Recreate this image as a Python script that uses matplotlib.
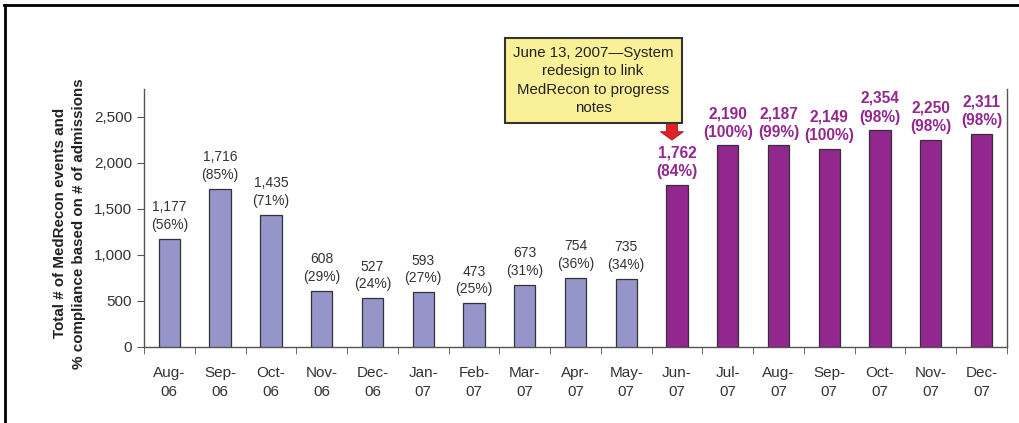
import matplotlib
matplotlib.use("Agg")
import matplotlib.pyplot as plt
from matplotlib.lines import Line2D
from matplotlib.ticker import FuncFormatter

plt.rcParams['font.family'] = ['Liberation Sans', 'DejaVu Sans']

# data
months = ['Aug-\n06', 'Sep-\n06', 'Oct-\n06', 'Nov-\n06', 'Dec-\n06', 'Jan-\n07',
          'Feb-\n07', 'Mar-\n07', 'Apr-\n07', 'May-\n07', 'Jun-\n07', 'Jul-\n07',
          'Aug-\n07', 'Sep-\n07', 'Oct-\n07', 'Nov-\n07', 'Dec-\n07']
events = [1177, 1716, 1435, 608, 527, 593, 473, 673, 754, 735,
          1762, 2190, 2187, 2149, 2354, 2250, 2311]
compliance = [56, 85, 71, 29, 24, 27, 25, 31, 36, 34,
              84, 100, 99, 100, 98, 98, 98]
n_before = 10  # months before the June 2007 redesign

light = '#9595C9'
dark = '#92278F'

fig = plt.figure(figsize=(10.19, 4.23), dpi=100)
ax = fig.add_axes([0.1413, 0.1797, 0.8469, 0.6099])

x = list(range(len(events)))
colors = [light if i < n_before else dark for i in x]
ax.bar(x, events, width=0.42, color=colors, edgecolor='#333333', linewidth=0.9, zorder=3)

for i, (v, p) in enumerate(zip(events, compliance)):
    lab = f'{v:,}\n({p}%)'
    if i < n_before:
        ax.annotate(lab, (i, v), xytext=(0, 5), textcoords='offset points',
                    ha='center', va='bottom', fontsize=10, color='#333333',
                    linespacing=1.35)
    else:
        ax.annotate(lab, (i, v), xytext=(0, 4), textcoords='offset points',
                    ha='center', va='bottom', fontsize=11.2, color=dark,
                    fontweight='bold', linespacing=1.3)

ax.set_xlim(-0.5, len(events) - 0.5)
ax.set_ylim(0, 2800)
ax.set_yticks([0, 500, 1000, 1500, 2000, 2500])
ax.yaxis.set_major_formatter(FuncFormatter(lambda v, _: f'{int(v):,}'))
ax.set_xticks(x)
ax.set_xticklabels(months, linespacing=1.45)
ax.set_xticks([i - 0.5 for i in range(len(events) + 1)], minor=True)
ax.tick_params(axis='x', which='major', length=0, pad=14, labelsize=11, labelcolor='#333333')
ax.tick_params(axis='x', which='minor', length=5, color='#555555', direction='out')
ax.tick_params(axis='y', length=5, color='#555555', labelsize=11, labelcolor='#333333')

for s in ['left', 'bottom', 'right']:
    ax.spines[s].set_color('#555555')
    ax.spines[s].set_linewidth(1)
ax.spines['top'].set_visible(False)

fig.text(0.068, 0.472, 'Total # of MedRecon events and\n% compliance based on # of admissions',
         rotation=90, ha='center', va='center', fontsize=10.9, fontweight='bold',
         multialignment='center', linespacing=1.5, color='#222222')

# callout for the redesign
fig.text(0.582, 0.81, 'June 13, 2007\u2014System\nredesign to link\nMedRecon to progress\nnotes',
         ha='center', va='center', fontsize=10.8, linespacing=1.4, color='#222222',
         bbox=dict(boxstyle='square,pad=0.55', fc='#FAF097', ec='#333333', lw=1.5))
ax.annotate('', xy=(n_before - 0.1, 0.802), xycoords=('data', 'axes fraction'),
            xytext=(n_before - 0.1, 0.868), textcoords=('data', 'axes fraction'),
            arrowprops=dict(arrowstyle='simple,head_width=1.65,head_length=0.6,tail_width=0.8',
                            fc='#E32227', ec='#9B1B1B', lw=0.6, shrinkA=0, shrinkB=0))

# outer frame (left and top edges only)
fig.add_artist(Line2D([0.005, 0.005], [0, 0.988], color='black', lw=2, transform=fig.transFigure))
fig.add_artist(Line2D([0.004, 1.0], [0.988, 0.988], color='black', lw=2, transform=fig.transFigure))

fig.savefig('out.png', dpi=100)
